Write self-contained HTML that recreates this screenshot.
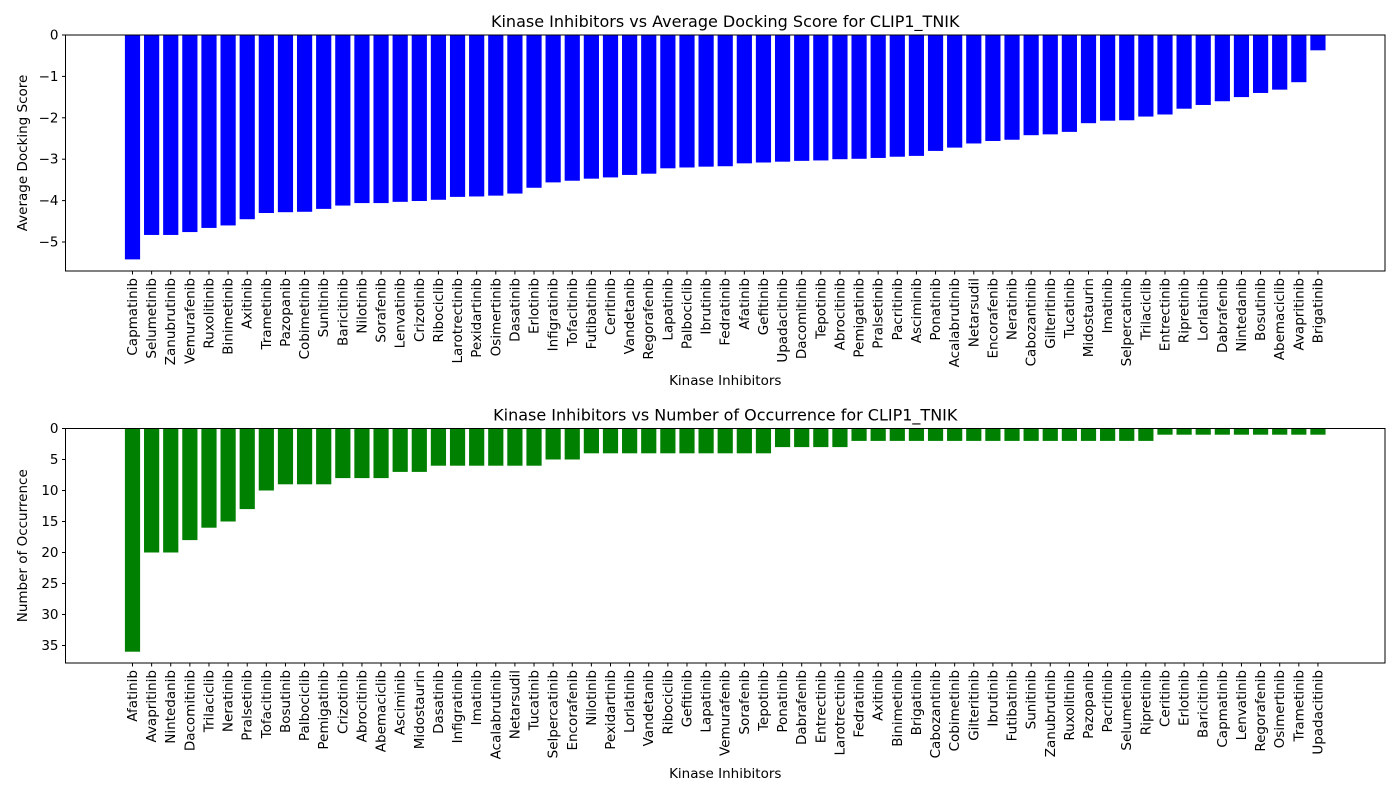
<!DOCTYPE html>
<html><head><meta charset="utf-8">
<style>
body{margin:0;background:#fff;}
svg{display:block;font-family:"DejaVu Sans","Liberation Sans",sans-serif;}
</style></head>
<body>
<svg id="chart" width="1400" height="800">
</svg>
<script>
const topCategories=["Capmatinib","Selumetinib","Zanubrutinib","Vemurafenib","Ruxolitinib","Binimetinib","Axitinib","Trametinib","Pazopanib","Cobimetinib","Sunitinib","Baricitinib","Nilotinib","Sorafenib","Lenvatinib","Crizotinib","Ribociclib","Larotrectinib","Pexidartinib","Osimertinib","Dasatinib","Erlotinib","Infigratinib","Tofacitinib","Futibatinib","Ceritinib","Vandetanib","Regorafenib","Lapatinib","Palbociclib","Ibrutinib","Fedratinib","Afatinib","Gefitinib","Upadacitinib","Dacomitinib","Tepotinib","Abrocitinib","Pemigatinib","Pralsetinib","Pacritinib","Asciminib","Ponatinib","Acalabrutinib","Netarsudil","Encorafenib","Neratinib","Cabozantinib","Gilteritinib","Tucatinib","Midostaurin","Imatinib","Selpercatinib","Trilaciclib","Entrectinib","Ripretinib","Lorlatinib","Dabrafenib","Nintedanib","Bosutinib","Abemaciclib","Avapritinib","Brigatinib"];
const topValues=[-5.42,-4.83,-4.83,-4.76,-4.66,-4.6,-4.45,-4.3,-4.28,-4.27,-4.2,-4.12,-4.06,-4.06,-4.03,-4.01,-3.98,-3.91,-3.9,-3.88,-3.83,-3.69,-3.56,-3.52,-3.47,-3.44,-3.38,-3.35,-3.22,-3.2,-3.18,-3.17,-3.1,-3.08,-3.06,-3.04,-3.03,-3.0,-2.99,-2.97,-2.94,-2.92,-2.8,-2.72,-2.62,-2.56,-2.53,-2.42,-2.4,-2.34,-2.13,-2.07,-2.06,-1.97,-1.92,-1.78,-1.69,-1.6,-1.5,-1.4,-1.32,-1.14,-0.37];
const topTicks=[0,-1,-2,-3,-4,-5];
const botCategories=["Afatinib","Avapritinib","Nintedanib","Dacomitinib","Trilaciclib","Neratinib","Pralsetinib","Tofacitinib","Bosutinib","Palbociclib","Pemigatinib","Crizotinib","Abrocitinib","Abemaciclib","Asciminib","Midostaurin","Dasatinib","Infigratinib","Imatinib","Acalabrutinib","Netarsudil","Tucatinib","Selpercatinib","Encorafenib","Nilotinib","Pexidartinib","Lorlatinib","Vandetanib","Ribociclib","Gefitinib","Lapatinib","Vemurafenib","Sorafenib","Tepotinib","Ponatinib","Dabrafenib","Entrectinib","Larotrectinib","Fedratinib","Axitinib","Binimetinib","Brigatinib","Cabozantinib","Cobimetinib","Gilteritinib","Ibrutinib","Futibatinib","Sunitinib","Zanubrutinib","Ruxolitinib","Pazopanib","Pacritinib","Selumetinib","Ripretinib","Ceritinib","Erlotinib","Baricitinib","Capmatinib","Lenvatinib","Regorafenib","Osimertinib","Trametinib","Upadacitinib"];
const botValues=[36,20,20,18,16,15,13,10,9,9,9,8,8,8,7,7,6,6,6,6,6,6,5,5,4,4,4,4,4,4,4,4,4,4,3,3,3,3,2,2,2,2,2,2,2,2,2,2,2,2,2,2,2,2,1,1,1,1,1,1,1,1,1];
const botTicks=[0,5,10,15,20,25,30,35];

const svg=document.getElementById('chart');
const NS='http://www.w3.org/2000/svg';
function mk(tag,attrs,parent){const e=document.createElementNS(NS,tag);for(const k in attrs)e.setAttribute(k,attrs[k]);(parent||svg).appendChild(e);return e;}

function drawPanel(o){
  const g=mk('g',{});
  
  
  const L=65.5,R=1385,T=o.top,B=o.bottom;
  const x=i=>132.5+i*19.12;
  const y=v=>o.zeroY+v*o.scale;
  o.values.forEach((v,i)=>{
    const y0=y(0),y1=y(v);
    const r=mk('rect',{x:x(i)-7.6,y:Math.min(y0,y1),width:15.2,height:Math.abs(y1-y0),fill:o.color},g);
    
    
  });
  const frame=mk('rect',{x:L,y:T,width:R-L,height:B-T,fill:'none',stroke:'#000','stroke-width':1},g);
  
  
  o.ticks.forEach(t=>{
    const yy=y(t);
    mk('line',{x1:L-3.5,x2:L,y1:yy,y2:yy,stroke:'#000'},g);
    const tx=mk('text',{x:L-7,y:yy+4.5,'text-anchor':'end','font-size':13.5},g);
    tx.textContent=t<0?'\u2212'+(-t):String(t);
    
    
  });
  o.cats.forEach((c,i)=>{
    mk('line',{x1:x(i),x2:x(i),y1:B,y2:B+3.5,stroke:'#000'},g);
    const tx=mk('text',{transform:`translate(${x(i)+4.5},${B+7}) rotate(-90)`,'text-anchor':'end','font-size':13.5},g);
    tx.textContent=c;
    
    
  });
  const ti=mk('text',{x:(L+R)/2,y:T-8,'text-anchor':'middle','font-size':16},g);
  ti.textContent=o.title;
  
  
  const xl=mk('text',{x:(L+R)/2,y:o.xlabY,'text-anchor':'middle','font-size':13.5},g);
  xl.textContent='Kinase Inhibitors';
  
  
  const yl=mk('text',{transform:`translate(27,${(T+B)/2}) rotate(-90)`,'text-anchor':'middle','font-size':13.5},g);
  yl.textContent=o.ylab;
  
  
}
drawPanel({name:'docking-score-chart',top:35,bottom:271,zeroY:35,scale:-41.4,values:topValues,cats:topCategories,ticks:topTicks,color:'#0000ff',title:'Kinase Inhibitors vs Average Docking Score for CLIP1_TNIK',ylab:'Average Docking Score',xlabY:389-4});
drawPanel({name:'occurrence-chart',top:428.5,bottom:663,zeroY:428.5,scale:6.2,values:botValues,cats:botCategories,ticks:botTicks,color:'#008000',title:'Kinase Inhibitors vs Number of Occurrence for CLIP1_TNIK',ylab:'Number of Occurrence',xlabY:782-4});
</script>
</body></html>
